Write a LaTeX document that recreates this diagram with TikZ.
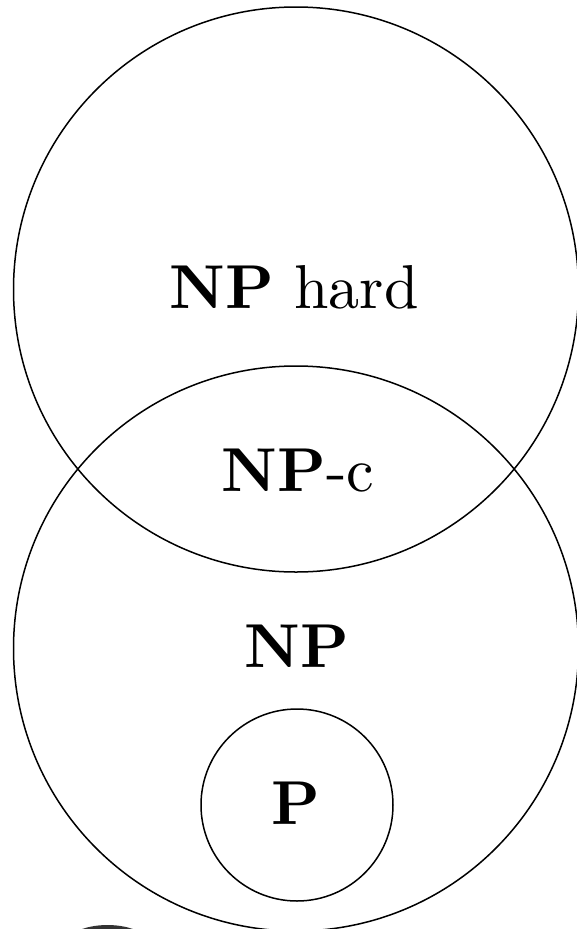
\documentclass[tikz,border=0pt]{standalone}
\begin{document}
\begin{tikzpicture}[x=1pt,y=-1pt,
  setcircle/.style={circle,draw,line width=1.5pt,inner sep=0pt,outer sep=0pt},
  lbl/.style={inner sep=0pt}]
\useasboundingbox (0,0) rectangle (576,929);
\node[setcircle, minimum size=565pt] (hardset) at (296,289.5) {};
\node[setcircle, minimum size=565pt] (npset) at (296,648.5) {};
\node[setcircle, minimum size=192pt] (pset) at (297,805) {};
\node[lbl] (hardlbl) at (294,287) {\scalebox{6.2}{\textbf{NP} hard}};
\node[lbl] (clbl) at (298,471) {\scalebox{6.2}{\textbf{NP}-c}};
\node[lbl] (nplbl) at (297,646) {\scalebox{6.2}{\textbf{NP}}};
\node[lbl] (plbl) at (296,803) {\scalebox{6.2}{\textbf{P}}};
\fill[black!80] (107.5,948) ellipse [x radius=45, y radius=23];
\end{tikzpicture}
\end{document}
